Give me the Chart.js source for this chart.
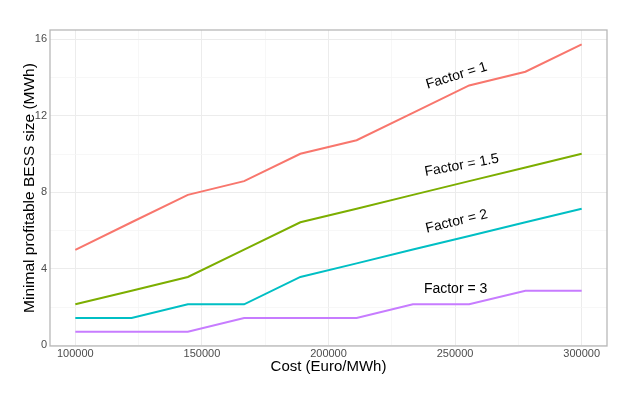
<!DOCTYPE html>
<html>
<head>
<meta charset="utf-8">
<title>Minimal profitable BESS size</title>
<script src="https://cdn.jsdelivr.net/npm/chart.js@4.4.1/dist/chart.umd.min.js"></script>
<style>
    html, body { margin: 0; padding: 0; background: #ffffff; }
</style>
</head>
<body>
<canvas id="myChart" width="625" height="400"></canvas>
<script>
// Cost steps (Euro/MWh)
const costs = [100000, 122222, 144444, 166667, 188889, 211111, 233333, 255556, 277778, 300000];

// Minimal profitable BESS size (MWh) per factor
const factor1 = [5.00, 6.44, 7.87, 8.59, 10.02, 10.73, 12.16, 13.59, 14.31, 15.74];
const factor15 = [2.15, 2.86, 3.58, 5.01, 6.44, 7.15, 7.87, 8.59, 9.30, 10.02];
const factor2 = [1.43, 1.43, 2.15, 2.15, 3.58, 4.29, 5.01, 5.72, 6.44, 7.15];
const factor3 = [0.72, 0.72, 0.72, 1.43, 1.43, 1.43, 2.15, 2.15, 2.86, 2.86];

const seriesNames = ['Factor = 1', 'Factor = 1.5', 'Factor = 2', 'Factor = 3'];
const xTicks = [100000, 150000, 200000, 250000, 300000];
const yTicks = [0, 4, 8, 12, 16];

const seriesColors = ['#F8766D', '#7CAE00', '#00BFC4', '#C77CFF'];

// where each text label sits (data coordinates) and its tilt in degrees
const labelSpots = [
    { x: 250600, y: 14.1, angle: 17 },
    { x: 252600, y: 9.41, angle: 10.5 },
    { x: 250600, y: 6.48, angle: 13.5 },
    { x: 250200, y: 2.94, angle: 0 }
];

const FONT = '"Liberation Sans", Arial, sans-serif';

function toPoints(values) {
    return values.map((v, i) => ({ x: costs[i], y: v }));
}

// minor grid steps between the labelled ticks
function withMinor(major) {
    const out = [];
    for (let i = 0; i < major.length; i++) {
        out.push(major[i]);
        if (i < major.length - 1) out.push((major[i] + major[i + 1]) / 2);
    }
    return out;
}

const panelBox = {
    id: 'panelBox',
    afterDatasetsDraw(chart) {
        const { ctx, chartArea: a } = chart;
        ctx.save();
        ctx.strokeStyle = '#b8b8b8';
        ctx.lineWidth = 1.3;
        ctx.strokeRect(a.left, a.top, a.right - a.left, a.bottom - a.top);
        ctx.restore();
    }
};

const lineLabels = {
    id: 'lineLabels',
    afterDatasetsDraw(chart) {
        const { ctx, scales } = chart;
        ctx.save();
        ctx.fillStyle = '#000000';
        ctx.font = '14px ' + FONT;
        ctx.textAlign = 'center';
        ctx.textBaseline = 'middle';
        labelSpots.forEach((spot, i) => {
            const px = scales.x.getPixelForValue(spot.x);
            const py = scales.y.getPixelForValue(spot.y);
            ctx.save();
            ctx.translate(px, py);
            ctx.rotate(-spot.angle * Math.PI / 180);
            ctx.fillText(seriesNames[i], 0, 0);
            ctx.restore();
        });
        ctx.restore();
    }
};

const allSeries = [factor1, factor15, factor2, factor3];

new Chart(document.getElementById('myChart'), {
    type: 'line',
    data: {
        datasets: allSeries.map((values, i) => ({
            label: seriesNames[i],
            data: toPoints(values),
            borderColor: seriesColors[i],
            borderWidth: 2,
            pointRadius: 0,
            tension: 0,
            fill: false
        }))
    },
    options: {
        responsive: false,
        animation: false,
        layout: { padding: { left: 0, top: 30, right: 18, bottom: 0 } },
        plugins: {
            legend: { display: false },
            tooltip: { enabled: false }
        },
        scales: {
            x: {
                type: 'linear',
                min: 90000,
                max: 310000,
                afterBuildTicks: (scale) => {
                    scale.ticks = withMinor(xTicks).map(v => ({ value: v }));
                },
                afterFit: (scale) => { scale.height = 54; },
                grid: {
                    drawTicks: false,
                    color: (c) => xTicks.includes(c.tick && c.tick.value) ? '#ececec' : '#f5f5f5',
                    lineWidth: (c) => xTicks.includes(c.tick && c.tick.value) ? 1 : 0.8
                },
                border: { display: false },
                ticks: {
                    autoSkip: false,
                    maxRotation: 0,
                    padding: 1,
                    color: '#4d4d4d',
                    font: { family: FONT, size: 11 },
                    callback: (v) => xTicks.includes(v) ? String(v) : ''
                },
                title: {
                    display: true,
                    text: 'Cost (Euro/MWh)',
                    color: '#000000',
                    font: { family: FONT, size: 15 },
                    padding: { top: 0, bottom: 24 }
                }
            },
            y: {
                type: 'linear',
                min: -0.03,
                max: 16.49,
                afterBuildTicks: (scale) => {
                    scale.ticks = withMinor(yTicks).map(v => ({ value: v }));
                },
                afterFit: (scale) => { scale.width = 50; },
                grid: {
                    drawTicks: false,
                    color: (c) => yTicks.includes(c.tick && c.tick.value) ? '#ececec' : '#f5f5f5',
                    lineWidth: (c) => yTicks.includes(c.tick && c.tick.value) ? 1 : 0.8
                },
                border: { display: false },
                ticks: {
                    autoSkip: false,
                    padding: 3,
                    color: '#4d4d4d',
                    font: { family: FONT, size: 11 },
                    callback: (v) => yTicks.includes(v) ? String(v) : ''
                },
                title: {
                    display: true,
                    text: 'Minimal profitable BESS size (MWh)',
                    color: '#000000',
                    font: { family: FONT, size: 15.5 },
                    padding: { top: 20, bottom: 0 }
                }
            }
        }
    },
    plugins: [panelBox, lineLabels]
});
</script>
</body>
</html>
